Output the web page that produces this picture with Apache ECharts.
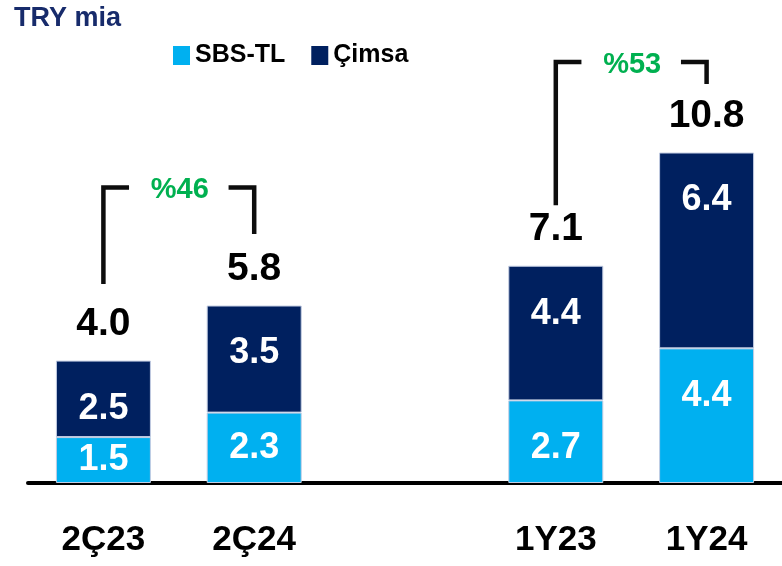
<!DOCTYPE html>
<html>
<head>
<meta charset="utf-8">
<title>TRY mia</title>
<script src="https://cdn.jsdelivr.net/npm/echarts@6/dist/echarts.min.js"></script>
<style>
    html,body{margin:0;padding:0;background:#fff;}
    #chart{width:782px;height:566px;}
</style>
</head>
<body>
<div id="chart"></div>
<script>
// categories (empty slot separates the quarter pair from the year pair)
var categories = ['2Ç23', '2Ç24', '', '1Y23', '1Y24'];
var sbsValues = [1.5, 2.3, '-', 2.7, 4.4];
var cimsaValues = [2.5, 3.5, '-', 4.4, 6.4];
var totals = [4.0, 5.8, '-', 7.1, 10.8];

// growth brackets: from bar index -> to bar index
var bracketFrom = [0, 3];
var bracketTo = [1, 4];
var bracketTop = [9.66, 13.76];
var bracketLeftEnd = [6.5, 9.08];
var bracketRightEnd = [8.14, 13.04];
var growthLabels = ['%46', '%53'];

var FONT = '"Liberation Sans", Arial, sans-serif';
var NAVY = '#00205F';
var CYAN = '#00B0F0';
var ARM = 0.17;   // length of the horizontal bracket arms, in category units

// small segments get a centred label, tall ones a label near the top
function segmentData(values){
    return values.map(function(v){
        if (v === '-') return v;
        return {value: v, label: {position: v < 2.5 ? 'inside' : 'insideTop'}};
    });
}

function segmentLabel(){
    return {
        show: true,
        distance: 30,
        color: '#fff',
        fontFamily: FONT,
        fontWeight: 'bold',
        fontSize: 36,
        formatter: function(p){ return p.value.toFixed(1); }
    };
}

var series = [
    {
        name: 'SBS-TL',
        type: 'bar',
        stack: 'total',
        barWidth: 95,
        data: segmentData(sbsValues),
        itemStyle: {color: CYAN, borderColor: '#c3cde3', borderWidth: 1},
        label: segmentLabel()
    },
    {
        name: 'Çimsa',
        type: 'bar',
        stack: 'total',
        barWidth: 95,
        data: segmentData(cimsaValues),
        itemStyle: {color: NAVY, borderColor: '#c3cde3', borderWidth: 1},
        label: segmentLabel()
    },
    {
        name: 'total',
        type: 'scatter',
        data: totals,
        symbolSize: 1,
        itemStyle: {color: 'rgba(0,0,0,0)', opacity: 1},
        label: {
            show: true,
            position: 'top',
            distance: 16,
            color: '#000',
            fontFamily: FONT,
            fontWeight: 'bold',
            fontSize: 39,
            formatter: function(p){ return p.value.toFixed(1); }
        }
    }
];

// bracket arms + growth labels, placed on a hidden value axis matching the categories
for (var i = 0; i < bracketFrom.length; i++) {
    var lineStyle = {color: '#0d0d0d', width: 4.5, cap: 'butt', join: 'miter'};
    series.push({
        type: 'line',
        xAxisIndex: 1,
        symbol: 'none',
        lineStyle: lineStyle,
        data: [[bracketFrom[i], bracketLeftEnd[i]], [bracketFrom[i], bracketTop[i]], [bracketFrom[i] + ARM, bracketTop[i]]]
    });
    series.push({
        type: 'line',
        xAxisIndex: 1,
        symbol: 'none',
        lineStyle: lineStyle,
        data: [[bracketTo[i] - ARM, bracketTop[i]], [bracketTo[i], bracketTop[i]], [bracketTo[i], bracketRightEnd[i]]]
    });
    series.push({
        type: 'scatter',
        xAxisIndex: 1,
        symbolSize: 1,
        itemStyle: {color: 'rgba(0,0,0,0)', opacity: 1},
        data: [[(bracketFrom[i] + bracketTo[i]) / 2, bracketTop[i]]],
        label: {
            show: true,
            position: 'inside',
            offset: [1, 3],
            color: '#00B050',
            fontFamily: FONT,
            fontWeight: 'bold',
            fontSize: 29,
            formatter: growthLabels[i]
        }
    });
}

var option = {
    animation: false,
    title: {
        text: 'TRY mia',
        left: 9,
        top: 0,
        textStyle: {color: '#172B6B', fontFamily: FONT, fontWeight: 'bold', fontSize: 27}
    },
    legend: {
        data: ['SBS-TL', 'Çimsa'],
        left: 168,
        top: 38,
        icon: 'rect',
        itemWidth: 17,
        itemHeight: 19,
        itemGap: 26,
        itemStyle: {borderWidth: 0},
        textStyle: {color: '#000', fontFamily: FONT, fontWeight: 'bold', fontSize: 25}
    },
    grid: {left: 28, right: -3, top: 24, bottom: 83},
    xAxis: [
        {
            type: 'category',
            data: categories,
            axisTick: {show: false},
            axisLine: {lineStyle: {color: '#000', width: 4}},
            axisLabel: {
                margin: 40,
                color: '#000',
                fontFamily: FONT,
                fontWeight: 'bold',
                fontSize: 35
            }
        },
        {
            type: 'value',
            min: -0.5,
            max: 4.5,
            show: false
        }
    ],
    yAxis: {
        type: 'value',
        min: 0,
        max: 15,
        show: false
    },
    series: series
};

var chart = echarts.init(document.getElementById('chart'));
chart.setOption(option);
window.addEventListener('resize', function(){ chart.resize(); });
</script>
</body>
</html>
